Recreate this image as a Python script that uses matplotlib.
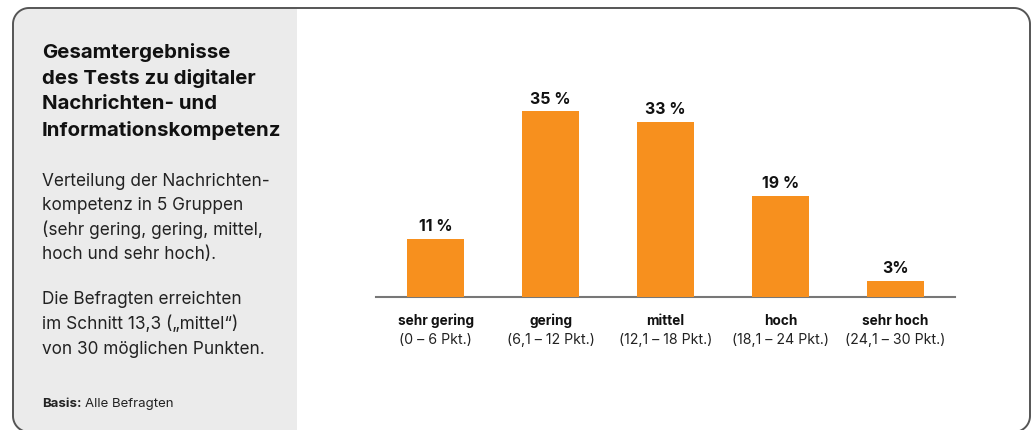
import numpy as np
import matplotlib
matplotlib.use("Agg")
import matplotlib.pyplot as plt
from matplotlib.patches import PathPatch, Rectangle
from matplotlib.path import Path

categories = ["sehr gering", "gering", "mittel", "hoch", "sehr hoch"]
ranges = ["(0 – 6 Pkt.)", "(6,1 – 12 Pkt.)", "(12,1 – 18 Pkt.)", "(18,1 – 24 Pkt.)", "(24,1 – 30 Pkt.)"]
values = [11, 35, 33, 19, 3]
value_labels = ["11 %", "35 %", "33 %", "19 %", "3%"]

title_lines = ["Gesamtergebnisse", "des Tests zu digitaler", "Nachrichten- und", "Informationskompetenz"]
para1 = ["Verteilung der Nachrichten-", "kompetenz in 5 Gruppen", "(sehr gering, gering, mittel,", "hoch und sehr hoch)."]
para2 = ["Die Befragten erreichten", "im Schnitt 13,3 („mittel“)", "von 30 möglichen Punkten."]

FONT = ["Inter", "DejaVu Sans"]
ORANGE = "#F7901E"
W, H = 1032, 430
fig = plt.figure(figsize=(W / 100, H / 100), dpi=100)

# background axes in pixel coordinates
bg = fig.add_axes([0, 0, 1, 1])
bg.set_xlim(0, W)
bg.set_ylim(H, 0)
bg.axis("off")


def rounded_rect(x0, y0, x1, y1, r, n=20):
    pts = []
    corners = [(x1 - r, y0 + r, -np.pi / 2, 0), (x1 - r, y1 - r, 0, np.pi / 2),
               (x0 + r, y1 - r, np.pi / 2, np.pi), (x0 + r, y0 + r, np.pi, 1.5 * np.pi)]
    for cx, cy, a0, a1 in corners:
        for a in np.linspace(a0, a1, n):
            pts.append((cx + r * np.cos(a), cy + r * np.sin(a)))
    pts.append(pts[0])
    return Path(pts, closed=True)


fpath = rounded_rect(13, 8, 1030, 432, 16)
frame = PathPatch(fpath, facecolor="white", edgecolor="none", zorder=1)
bg.add_patch(frame)
panel = Rectangle((13, 8), 284, 424, facecolor="#EBEBEB", edgecolor="none", zorder=2)
bg.add_patch(panel)
panel.set_clip_path(frame)
edge = PathPatch(fpath, facecolor="none", edgecolor="#555555", linewidth=1.4, zorder=3)
bg.add_patch(edge)

y = 52
for line in title_lines:
    bg.text(42, y, line, fontsize=14.7, fontweight="bold", family=FONT, color="#111111",
            va="center", ha="left", zorder=4)
    y += 26
y = 181
for line in para1:
    bg.text(42, y, line, fontsize=12.4, family=FONT, color="#222222", va="center", ha="left", zorder=4)
    y += 24.5
y = 300
for line in para2:
    bg.text(42, y, line, fontsize=12.4, family=FONT, color="#222222", va="center", ha="left", zorder=4)
    y += 24.5
t = bg.text(42, 404, "Basis:", fontsize=9.5, fontweight="bold", family=FONT, color="#222222",
            va="center", ha="left", zorder=4)
bg.annotate("Alle Befragten", xy=(1, 0.5), xycoords=t, xytext=(2.5, 0), textcoords="offset points",
            fontsize=9.5, family=FONT, color="#222222", va="center", ha="left", zorder=4)

# chart axes
left, right = 376 / W, 955 / W
base = 297
ax = fig.add_axes([left, (H - base) / H, right - left, 212 / H])
ax.patch.set_alpha(0)
x = list(range(len(values)))
ax.bar(x, values, width=0.5, color=ORANGE, zorder=3)
ax.set_xlim(-0.52, 4.52)
ax.set_ylim(0, 40)
for s in ["top", "right", "left"]:
    ax.spines[s].set_visible(False)
ax.spines["bottom"].set_color("#777777")
ax.spines["bottom"].set_linewidth(1.5)
ax.set_yticks([])
ax.set_xticks([])
for xi, v, lab in zip(x, values, value_labels):
    ax.annotate(lab, (xi, v), xytext=(0, 3.5), textcoords="offset points", ha="center", va="bottom",
                fontsize=11.5, fontweight="bold", family=FONT, color="#111111")
for xi, c, r in zip(x, categories, ranges):
    ax.annotate(c, (xi, 0), xytext=(0, -17), textcoords="offset points", ha="center", va="center",
                fontsize=9.8, fontweight="bold", family=FONT, color="#111111", annotation_clip=False)
    ax.annotate(r, (xi, 0), xytext=(0, -31), textcoords="offset points", ha="center", va="center",
                fontsize=10.2, family=FONT, color="#222222", annotation_clip=False)

fig.savefig("out.png", dpi=100)
